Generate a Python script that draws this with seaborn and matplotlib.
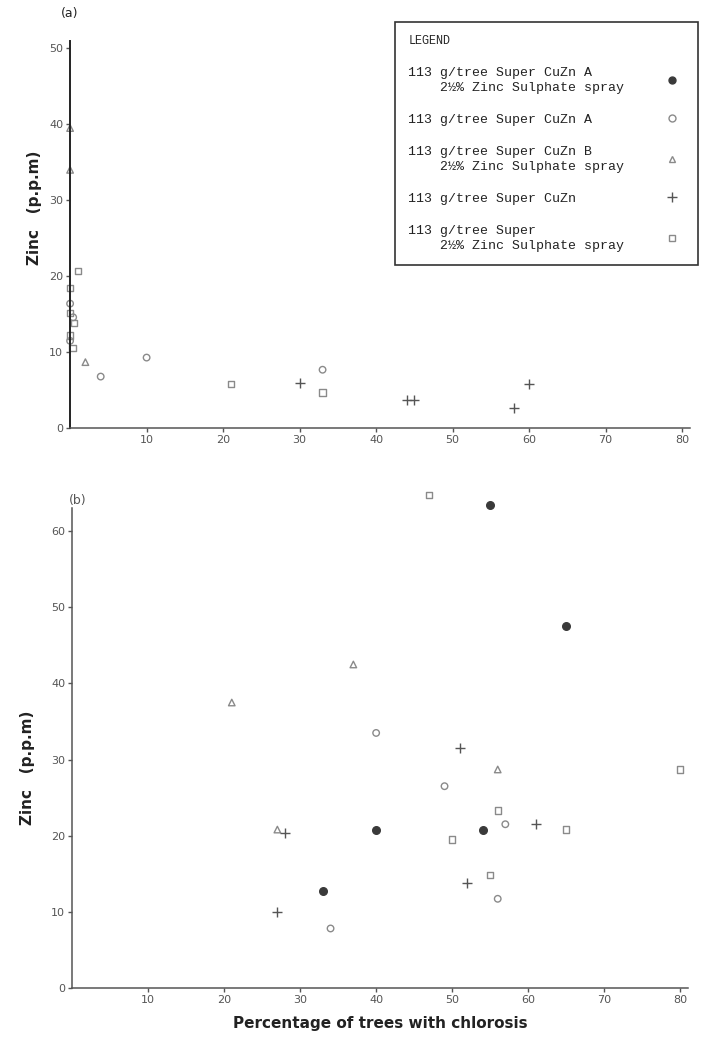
import numpy as np
import pandas as pd
import matplotlib
matplotlib.use("Agg")
import matplotlib.pyplot as plt
import seaborn as sns
from matplotlib.lines import Line2D

# ---------- Treatments ----------
T_A = "113 g/tree Super CuZn A\n    2½% Zinc Sulphate spray"
T_B = "113 g/tree Super CuZn A"
T_C = "113 g/tree Super CuZn B\n    2½% Zinc Sulphate spray"
T_D = "113 g/tree Super CuZn"
T_E = "113 g/tree Super\n    2½% Zinc Sulphate spray"
treatments = [T_A, T_B, T_C, T_D, T_E]

# ---------- Panel (a) ----------
a_treat = ([T_C] * 3 + [T_E] * 8 + [T_B] * 6 + [T_D] * 5)
a_chlorosis = [0, 0, 2,
               0, 1, 21, 33, 0, 0.5, 0, 0.3,
               4, 10, 33, 0, 0.4, 0,
               30, 44, 45, 58, 60]
a_zinc = [39.5, 34, 8.7,
          18.5, 20.7, 5.8, 4.7, 15.2, 13.8, 12.2, 10.6,
          6.8, 9.3, 7.7, 16.4, 14.6, 11.5,
          6.0, 3.7, 3.7, 2.7, 5.8]

# ---------- Panel (b) ----------
b_treat = ([T_A] * 5 + [T_B] * 5 + [T_C] * 4 + [T_D] * 5 + [T_E] * 6)
b_chlorosis = [55, 65, 33, 40, 54,
               40, 49, 57, 34, 56,
               37, 21, 56, 27,
               51, 61, 28, 52, 27,
               80, 56, 65, 50, 55, 47]
b_zinc = [63.5, 47.5, 12.7, 20.8, 20.8,
          33.5, 26.5, 21.5, 7.8, 11.7,
          42.5, 37.5, 28.7, 20.8,
          31.5, 21.5, 20.3, 13.8, 10.0,
          28.7, 23.3, 20.8, 19.5, 14.8, 64.8]

df_a = pd.DataFrame({"Treatment": a_treat, "Chlorosis": a_chlorosis, "Zinc": a_zinc})
df_b = pd.DataFrame({"Treatment": b_treat, "Chlorosis": b_chlorosis, "Zinc": b_zinc})

markers = {T_A: "o", T_B: "o", T_C: "^", T_D: "+", T_E: "s"}
edge = {T_A: "#3a3a3a", T_B: "#8a8a8a", T_C: "#8a8a8a", T_D: "#555555", T_E: "#8a8a8a"}
face = {T_A: "#3a3a3a", T_B: "none", T_C: "none", T_D: "#555555", T_E: "none"}
sizes = {T_A: 30, T_B: 22, T_C: 22, T_D: 60, T_E: 20}

sns.set_style("ticks")
plt.rcParams["font.family"] = ["DejaVu Sans"]

fig = plt.figure(figsize=(7.01, 10.42), dpi=100)
ax_a = fig.add_axes([0.100, 0.589, 0.884, 0.372])
ax_b = fig.add_axes([0.103, 0.052, 0.878, 0.460])


def draw(ax, df):
    for t in treatments:
        sub = df[df["Treatment"] == t]
        if sub.empty:
            continue
        sns.scatterplot(data=sub, x="Chlorosis", y="Zinc", ax=ax, marker=markers[t],
                        s=sizes[t], facecolors=face[t], edgecolors=edge[t],
                        color=edge[t], linewidths=1.0, legend=False, clip_on=False)
    ax.set_xlim(0, 81)
    ax.set_xticks(range(10, 90, 10))
    ax.set_xlabel("")
    ax.set_ylabel("Zinc   (p.p.m)", fontsize=11, fontweight="bold", color="#222222")
    sns.despine(ax=ax)
    for s in ["left", "bottom"]:
        ax.spines[s].set_color("#555555")
        ax.spines[s].set_linewidth(1.1)
    ax.tick_params(labelsize=8, colors="#555555", length=3, width=1, pad=2)


draw(ax_a, df_a)
ax_a.set_ylim(0, 51)
ax_a.set_yticks([0, 10, 20, 30, 40, 50])
ax_a.yaxis.set_label_coords(-0.045, 0.57)
ax_a.spines["left"].set_color("#222222")
ax_a.spines["left"].set_linewidth(1.4)
ax_a.text(-0.015, 1.06, "(a)", transform=ax_a.transAxes, fontsize=9, color="#222222")

draw(ax_b, df_b)
ax_b.set_ylim(0, 63)
ax_b.set_yticks([0, 10, 20, 30, 40, 50, 60])
ax_b.yaxis.set_label_coords(-0.06, 0.46)
ax_b.text(-0.005, 1.01, "(b)", transform=ax_b.transAxes, fontsize=9, color="#555555")
ax_b.set_xlabel("Percentage of trees with chlorosis", fontsize=11, fontweight="bold",
                color="#222222", labelpad=8)

# ---------- Legend ----------
# pad every label line to the same width so the text stays left aligned
width = max(len(line) for t in treatments for line in t.split("\n"))
leg_labels = ["\n".join(line.ljust(width, "\u00a0") for line in t.split("\n"))
              for t in treatments]
handles = [Line2D([], [], linestyle="none", marker=markers[t], markersize=5 if t != T_D else 7,
                  markerfacecolor=face[t], markeredgecolor=edge[t], markeredgewidth=1.0)
           for t in treatments]
leg = fig.legend(handles, leg_labels, loc="upper right", bbox_to_anchor=(0.996, 0.979),
                 markerfirst=False, title="LEGEND", alignment="left",
                 prop={"family": "Liberation Mono", "size": 9.5},
                 title_fontproperties={"family": "Liberation Mono", "size": 8.5},
                 frameon=True, fancybox=False, edgecolor="#333333",
                 labelspacing=1.5, handletextpad=2.6, borderpad=1.0,
                 borderaxespad=0, framealpha=1)
leg.get_frame().set_linewidth(1.2)
for txt in leg.get_texts():
    txt.set_color("#222222")
    txt.set_linespacing(1.35)

fig.canvas.draw()
bb = leg.get_title().get_window_extent().transformed(fig.transFigure.inverted())
fig.add_artist(Line2D([bb.x0, bb.x1], [bb.y0 - 0.002, bb.y0 - 0.002],
                      transform=fig.transFigure, color="#333333", linewidth=0.8))

fig.savefig("out.png", dpi=100)
